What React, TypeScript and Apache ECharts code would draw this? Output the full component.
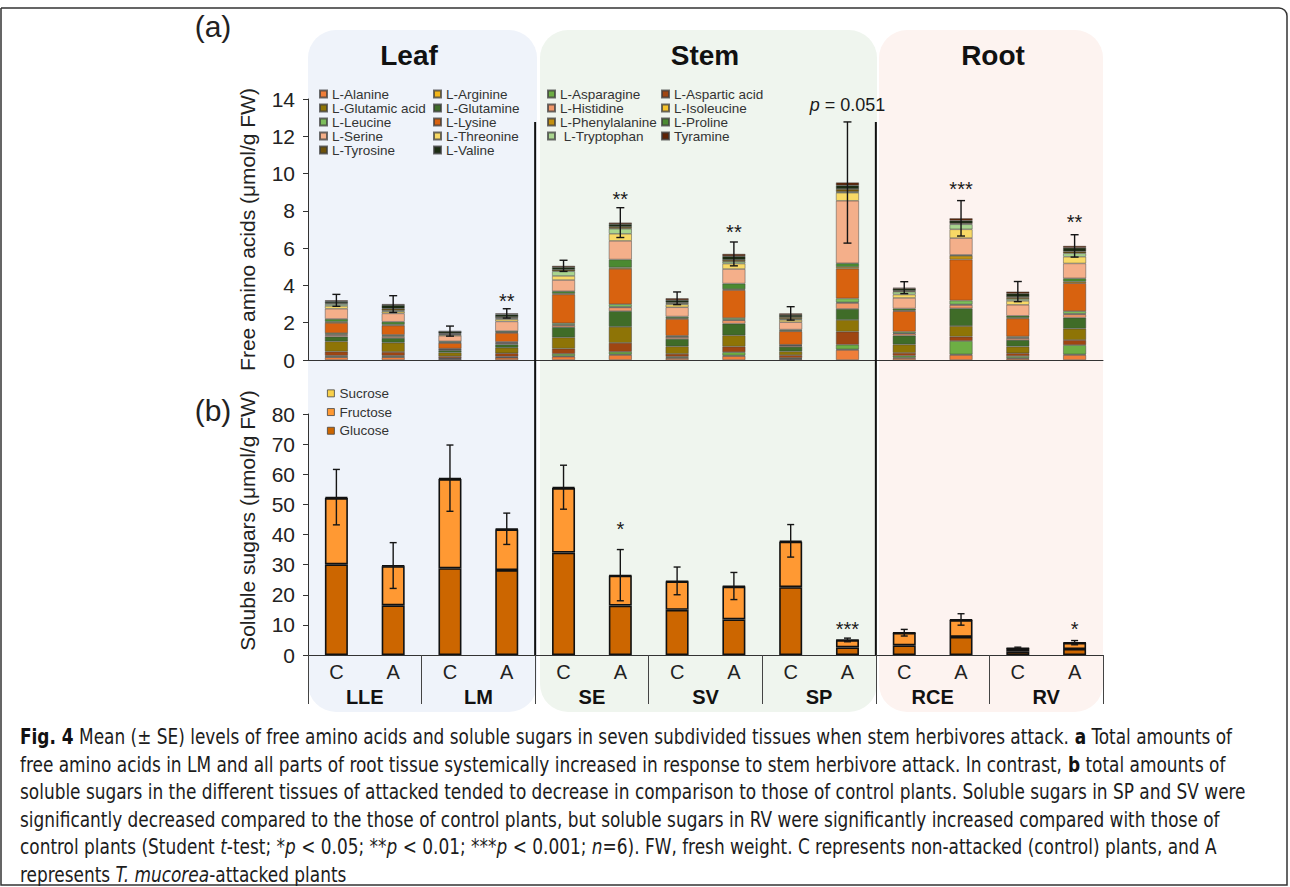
import React, { useEffect, useRef } from 'react';
import * as echarts from 'echarts';

// ---------- data ----------
const categories = ['C', 'A', 'C', 'A', 'C', 'A', 'C', 'A', 'C', 'A', 'C', 'A', 'C', 'A'];
const groups = ['LLE', 'LM', 'SE', 'SV', 'SP', 'RCE', 'RV'];

const aminoNames = [
  'L-Alanine', 'L-Arginine', 'L-Asparagine', 'L-Aspartic acid', 'L-Glutamic acid', 'L-Glutamine',
  'L-Histidine', 'L-Isoleucine', 'L-Leucine', 'L-Lysine', 'L-Phenylalanine', 'L-Proline',
  'L-Serine', 'L-Threonine', 'L-Tryptophan', 'L-Tyrosine', 'L-Valine', 'Tyramine',
];
const aminoColors = [
  '#EF7E3A', '#F3B61A', '#6DAE44', '#9F4612', '#8E7406', '#3F6C28',
  '#F0986A', '#F7C52C', '#7DBE5C', '#D8620F', '#C39110', '#4B8A31',
  '#F4AF8A', '#F8D966', '#A9D58E', '#6E520A', '#1C2C12', '#5E2406',
];

const alanine = [0.15, 0.15, 0.05, 0.12, 0.18, 0.27, 0.1, 0.21, 0.05, 0.54, 0.1, 0.27, 0.08, 0.27];
const arginine = [0.03, 0.03, 0.02, 0.02, 0.03, 0.03, 0.03, 0.03, 0.02, 0.03, 0.03, 0.03, 0.03, 0.03];
const asparagine = [0.05, 0.05, 0.03, 0.04, 0.12, 0.14, 0.05, 0.18, 0.04, 0.25, 0.1, 0.72, 0.1, 0.5];
const asparticAcid = [0.22, 0.2, 0.1, 0.18, 0.28, 0.48, 0.15, 0.3, 0.15, 0.7, 0.15, 0.23, 0.15, 0.27];
const glutamicAcid = [0.55, 0.5, 0.2, 0.3, 0.6, 0.86, 0.4, 0.6, 0.2, 0.63, 0.45, 0.57, 0.36, 0.61];
const glutamine = [0.25, 0.25, 0.12, 0.18, 0.55, 0.84, 0.4, 0.63, 0.25, 0.59, 0.48, 0.95, 0.35, 0.59];
const histidine = [0.08, 0.08, 0.04, 0.06, 0.1, 0.2, 0.1, 0.18, 0.06, 0.32, 0.1, 0.18, 0.1, 0.18];
const isoleucine = [0.05, 0.04, 0.02, 0.03, 0.03, 0.03, 0.02, 0.03, 0.02, 0.03, 0.03, 0.03, 0.03, 0.03];
const leucine = [0.06, 0.05, 0.03, 0.04, 0.08, 0.14, 0.05, 0.09, 0.03, 0.21, 0.08, 0.21, 0.06, 0.14];
const lysine = [0.55, 0.5, 0.3, 0.48, 1.55, 1.9, 0.9, 1.5, 0.72, 1.6, 1.1, 2.2, 0.97, 1.5];
const phenylalanine = [0.06, 0.05, 0.03, 0.04, 0.05, 0.07, 0.05, 0.05, 0.04, 0.09, 0.04, 0.2, 0.04, 0.08];
const proline = [0.15, 0.15, 0.06, 0.06, 0.12, 0.43, 0.08, 0.3, 0.05, 0.2, 0.1, 0.05, 0.1, 0.18];
const serine = [0.55, 0.45, 0.3, 0.52, 0.6, 1.0, 0.5, 0.78, 0.4, 3.35, 0.57, 0.9, 0.59, 0.8];
const threonine = [0.15, 0.1, 0.06, 0.12, 0.22, 0.38, 0.15, 0.29, 0.12, 0.43, 0.18, 0.47, 0.21, 0.36];
const tryptophan = [0.1, 0.05, 0.03, 0.05, 0.25, 0.27, 0.05, 0.1, 0.05, 0.05, 0.15, 0.27, 0.1, 0.18];
const tyrosine = [0.05, 0.1, 0.04, 0.06, 0.08, 0.1, 0.05, 0.1, 0.1, 0.15, 0.05, 0.05, 0.1, 0.1];
const valine = [0.1, 0.2, 0.1, 0.15, 0.14, 0.15, 0.13, 0.2, 0.12, 0.2, 0.12, 0.15, 0.2, 0.2];
const tyramine = [0.05, 0.05, 0.02, 0.05, 0.07, 0.08, 0.1, 0.12, 0.08, 0.15, 0.05, 0.12, 0.1, 0.1];

const aminoValues = [
  alanine, arginine, asparagine, asparticAcid, glutamicAcid, glutamine, histidine, isoleucine,
  leucine, lysine, phenylalanine, proline, serine, threonine, tryptophan, tyrosine, valine, tyramine,
];
const aminoSE = [0.32, 0.45, 0.27, 0.25, 0.3, 0.8, 0.34, 0.64, 0.36, 3.25, 0.32, 0.95, 0.54, 0.6];
const aminoStars = ['', '', '', '**', '', '**', '', '**', '', '{i|p} = 0.051', '', '***', '', '**'];
const aminoStarLevel = [0, 0, 0, 3.43, 0, 8.9, 0, 7.12, 0, 13.68, 0, 9.39, 0, 7.67];

const sugarNames = ['Glucose', 'Fructose', 'Sucrose'];
const sugarColors = ['#CC6600', '#FF9933', '#F9D04A'];
const glucose = [30.1, 16.5, 28.8, 28.2, 34.0, 16.4, 15.0, 11.8, 22.5, 2.5, 3.2, 6.0, 1.1, 2.0];
const fructose = [22.0, 13.0, 29.6, 13.5, 21.4, 9.9, 9.4, 10.9, 15.1, 2.4, 4.1, 5.6, 1.1, 2.0];
const sucrose = [0.3, 0.2, 0.3, 0.2, 0.3, 0.2, 0.2, 0.2, 0.3, 0.1, 0.1, 0.2, 0.1, 0.1];
const sugarValues = [glucose, fructose, sucrose];
const sugarSE = [9.2, 7.6, 11.0, 5.2, 7.3, 8.5, 4.6, 4.5, 5.4, 0.6, 1.1, 1.9, 0.3, 0.7];
const sugarStars = ['', '', '', '', '', '*', '', '', '', '***', '', '', '', '*'];
const sugarStarLevel = [0, 0, 0, 0, 0, 43.2, 0, 0, 0, 10, 0, 0, 0, 10];

const aminoAxis = { min: 0, max: 14, interval: 2 };
const sugarAxis = { min: 0, max: 80, interval: 10 };

const legendCol1 = ['L-Alanine', 'L-Glutamic acid', 'L-Leucine', 'L-Serine', 'L-Tyrosine'];
const legendCol2 = ['L-Arginine', 'L-Glutamine', 'L-Lysine', 'L-Threonine', 'L-Valine'];
const legendCol3 = ['L-Asparagine', 'L-Histidine', 'L-Phenylalanine', 'L-Tryptophan'];
const legendCol4 = ['L-Aspartic acid', 'L-Isoleucine', 'L-Proline', 'Tyramine'];
const sugarLegend = ['Sucrose', 'Fructose', 'Glucose'];

const captionLines = [
  '{b|Fig. 4} Mean (± SE) levels of free amino acids and soluble sugars in seven subdivided tissues when stem herbivores attack. {b|a} Total amounts of',
  'free amino acids in LM and all parts of root tissue systemically increased in response to stem herbivore attack. In contrast, {b|b} total amounts of',
  'soluble sugars in the different tissues of attacked tended to decrease in comparison to those of control plants. Soluble sugars in SP and SV were',
  'significantly decreased compared to the those of control plants, but soluble sugars in RV were significantly increased compared with those of',
  'control plants (Student {i|t}-test; *{i|p} < 0.05; **{i|p} < 0.01; ***{i|p} < 0.001; {i|n}=6). FW, fresh weight. C represents non-attacked (control) plants, and A',
  'represents {i|T. mucorea}-attacked plants',
];

// ---------- layout / style ----------
const FONT = "'Liberation Sans', Arial, Helvetica, sans-serif";
const CAP_FONT = "'DejaVu Sans Condensed', 'DejaVu Sans', sans-serif";
const CAP_SIZE = 21;
const CAP_LEFT = 20;
const CAP_LINE1_RIGHT = 1232;
const GL = 308;
const GW = 795;
const SLOT = GW / categories.length;

function measureRich(line: string): number {
  const ctx = document.createElement('canvas').getContext('2d');
  if (!ctx) return 0;
  let w = 0;
  const re = /\{(\w)\|([^}]*)\}/g;
  let last = 0;
  let m: RegExpExecArray | null;
  const seg = (t: string, style: string) => {
    ctx.font = `${style} ${CAP_SIZE}px ${CAP_FONT}`;
    w += ctx.measureText(t).width;
  };
  while ((m = re.exec(line))) {
    seg(line.slice(last, m.index), 'normal');
    seg(m[2], m[1] === 'b' ? 'bold' : 'italic');
    last = m.index + m[0].length;
  }
  seg(line.slice(last), 'normal');
  return w;
}

function errorRender(cap: number) {
  return (params: any, api: any) => {
    const x = api.value(0);
    const p1 = api.coord([x, api.value(1)]);
    const p2 = api.coord([x, api.value(2)]);
    const st = { stroke: '#151515', lineWidth: 1.4 };
    return {
      type: 'group',
      children: [
        { type: 'line', shape: { x1: p1[0], y1: p1[1], x2: p2[0], y2: p2[1] }, style: st },
        { type: 'line', shape: { x1: p1[0] - cap, y1: p1[1], x2: p1[0] + cap, y2: p1[1] }, style: st },
        { type: 'line', shape: { x1: p2[0] - cap, y1: p2[1], x2: p2[0] + cap, y2: p2[1] }, style: st },
      ],
    };
  };
}

function starRender(items: { s: string }[], size: number) {
  return (params: any, api: any) => {
    const p = api.coord([api.value(0), api.value(1)]);
    const s = items[params.dataIndex].s;
    const isStar = s.indexOf('*') >= 0;
    return {
      type: 'text',
      x: p[0],
      y: p[1] + (isStar ? 4.5 : 0),
      style: {
        text: s,
        fontSize: isStar ? 20 : size,
        fontFamily: FONT,
        fill: '#1a1a1a',
        align: 'center',
        verticalAlign: 'middle',
        rich: { i: { fontStyle: 'italic', fontSize: size, fontFamily: FONT, fill: '#1a1a1a' } },
      },
    };
  };
}

function buildOption() {
  const aminoTotals = categories.map((_, i) => aminoValues.reduce((s, arr) => s + arr[i], 0));
  const sugarTotals = categories.map((_, i) => sugarValues.reduce((s, arr) => s + arr[i], 0));
  const aminoErr = aminoTotals.map((t, i) => [i, t - aminoSE[i], t + aminoSE[i]]);
  const sugarErr = sugarTotals.map((t, i) => [i, t - sugarSE[i], t + sugarSE[i]]);
  const aStarItems = aminoStars.map((s, i) => ({ s, i, lv: aminoStarLevel[i] })).filter((d) => d.s);
  const sStarItems = sugarStars.map((s, i) => ({ s, i, lv: sugarStarLevel[i] })).filter((d) => d.s);

  const w1 = measureRich(captionLines[0]);
  const capScale = w1 > 0 ? (CAP_LINE1_RIGHT - CAP_LEFT) / w1 : 1;

  const aminoSeries = aminoNames.map((name, k) => ({
    type: 'bar',
    name,
    stack: 'amino',
    xAxisIndex: 0,
    yAxisIndex: 0,
    barWidth: 23,
    silent: true,
    data: aminoValues[k],
    itemStyle: { color: aminoColors[k], borderColor: 'rgba(60,60,60,0.75)', borderWidth: 0.6 },
  }));
  const sugarSeries = sugarNames.map((name, k) => ({
    type: 'bar',
    name,
    stack: 'sugar',
    xAxisIndex: 1,
    yAxisIndex: 1,
    barWidth: 23,
    silent: true,
    data: sugarValues[k],
    itemStyle: { color: sugarColors[k], borderColor: '#111', borderWidth: 1.6 },
  }));

  const legendBase = {
    orient: 'vertical',
    icon: 'rect',
    itemWidth: 7,
    itemHeight: 7,
    itemGap: 0,
    padding: 0,
    selectedMode: false,
    textStyle: { fontSize: 13.5, color: '#333', fontFamily: FONT, lineHeight: 13.8 },
  };

  const b1 = GL + 4 * SLOT;
  const b2 = GL + 10 * SLOT;

  const axisLabel = { fontSize: 21, color: '#222', margin: 13, fontFamily: FONT };
  const nameStyle = { fontSize: 21, color: '#222', fontFamily: FONT };

  return {
    animation: false,
    backgroundColor: '#ffffff',
    textStyle: { fontFamily: FONT },
    grid: [
      { left: GL, top: 99, width: GW, height: 261 },
      { left: GL, top: 414, width: GW, height: 241 },
    ],
    legend: [
      { ...legendBase, left: 319, top: 87, data: legendCol1 },
      { ...legendBase, left: 433, top: 87, data: legendCol2 },
      {
        ...legendBase, left: 547, top: 87, data: legendCol3,
        formatter: (n: string) => (n === 'L-Tryptophan' ? ' ' + n : n),
      },
      { ...legendBase, left: 661, top: 87, data: legendCol4 },
      {
        ...legendBase, left: 327, top: 384, data: sugarLegend,
        textStyle: { fontSize: 13.5, color: '#333', fontFamily: FONT, lineHeight: 18.7 },
        itemStyle: { borderWidth: 0.8, borderColor: '#444' },
      },
    ],
    xAxis: [
      {
        type: 'category', gridIndex: 0, data: categories,
        axisLine: { lineStyle: { color: '#333', width: 1 } },
        axisTick: { show: false }, axisLabel: { show: false },
      },
      {
        type: 'category', gridIndex: 1, data: categories,
        axisLine: { lineStyle: { color: '#333', width: 1 } },
        axisTick: { show: false },
        axisLabel: { fontSize: 20, color: '#222', margin: 7, fontFamily: FONT },
      },
      {
        type: 'category', gridIndex: 1, data: groups, position: 'bottom',
        axisLine: { show: false },
        axisTick: { show: true, length: 49, lineStyle: { color: '#444', width: 1 } },
        axisLabel: { fontSize: 20, fontWeight: 'bold', color: '#111', margin: 32, fontFamily: FONT },
      },
    ],
    yAxis: [
      {
        type: 'value', gridIndex: 0, ...aminoAxis,
        axisLine: { show: true, lineStyle: { color: '#333' } },
        axisTick: { show: true, length: 5, lineStyle: { color: '#333' } },
        axisLabel,
        splitLine: { show: false },
        name: 'Free amino acids (μmol/g FW)', nameLocation: 'middle', nameGap: 50,
        nameTextStyle: nameStyle,
      },
      {
        type: 'value', gridIndex: 1, ...sugarAxis,
        axisLine: { show: true, lineStyle: { color: '#333' } },
        axisTick: { show: true, length: 5, lineStyle: { color: '#333' } },
        axisLabel,
        splitLine: { show: false },
        name: 'Soluble sugars (μmol/g FW)', nameLocation: 'middle', nameGap: 50,
        nameTextStyle: { ...nameStyle, padding: [0, 0, 0, 28] },
      },
    ],
    series: [
      ...aminoSeries,
      ...sugarSeries,
      {
        type: 'custom', xAxisIndex: 0, yAxisIndex: 0, silent: true, z: 10,
        renderItem: errorRender(4), data: aminoErr, encode: { x: 0, y: [1, 2] },
      },
      {
        type: 'custom', xAxisIndex: 1, yAxisIndex: 1, silent: true, z: 10,
        renderItem: errorRender(3.5), data: sugarErr, encode: { x: 0, y: [1, 2] },
      },
      {
        type: 'custom', xAxisIndex: 0, yAxisIndex: 0, silent: true, z: 10, clip: false,
        renderItem: starRender(aStarItems, 18), data: aStarItems.map((d) => [d.i, d.lv]),
      },
      {
        type: 'custom', xAxisIndex: 1, yAxisIndex: 1, silent: true, z: 10, clip: false,
        renderItem: starRender(sStarItems, 18), data: sStarItems.map((d) => [d.i, d.lv]),
      },
    ],
    graphic: [
      {
        type: 'rect', z: -100, silent: true,
        shape: { x: 1, y: 8, width: 1286, height: 877, r: [0, 8, 0, 0] },
        style: { fill: 'none', stroke: '#333', lineWidth: 1.5 },
      },
      { type: 'rect', z: -90, silent: true, shape: { x: 308, y: 30, width: 229, height: 682, r: 28 }, style: { fill: '#EFF3FA' } },
      { type: 'rect', z: -90, silent: true, shape: { x: 540, y: 30, width: 337, height: 682, r: 28 }, style: { fill: '#EFF5EE' } },
      { type: 'rect', z: -90, silent: true, shape: { x: 879, y: 30, width: 224, height: 682, r: 28 }, style: { fill: '#FDF3F0' } },
      { type: 'line', z: 5, silent: true, shape: { x1: b1, y1: 122, x2: b1, y2: 655 }, style: { stroke: '#111', lineWidth: 2 } },
      { type: 'line', z: 5, silent: true, shape: { x1: b2, y1: 122, x2: b2, y2: 655 }, style: { stroke: '#111', lineWidth: 2 } },
      ...[
        ['Leaf', 409],
        ['Stem', 705],
        ['Root', 993],
      ].map(([t, x]) => ({
        type: 'text', z: 10, silent: true, x: x as number, y: 55,
        style: { text: t as string, fontSize: 28, fontWeight: 'bold', fontFamily: FONT, fill: '#111', align: 'center', verticalAlign: 'middle' },
      })),
      {
        type: 'text', z: 10, silent: true, x: 213, y: 26,
        style: { text: '(a)', fontSize: 30, fontFamily: FONT, fill: '#222', align: 'center', verticalAlign: 'middle' },
      },
      {
        type: 'text', z: 10, silent: true, x: 213, y: 410,
        style: { text: '(b)', fontSize: 30, fontFamily: FONT, fill: '#222', align: 'center', verticalAlign: 'middle' },
      },
      ...captionLines.map((line, k) => ({
        type: 'text', z: 10, silent: true, x: CAP_LEFT, y: 737 + k * 27.5, scaleX: capScale,
        style: {
          text: line, fontSize: CAP_SIZE, fontFamily: CAP_FONT, fill: '#1c1c1c', align: 'left', verticalAlign: 'middle',
          rich: {
            b: { fontWeight: 'bold', fontSize: CAP_SIZE, fontFamily: CAP_FONT, fill: '#111' },
            i: { fontStyle: 'italic', fontSize: CAP_SIZE, fontFamily: CAP_FONT, fill: '#1c1c1c' },
          },
        },
      })),
    ],
  };
}

export default function App() {
  const ref = useRef<HTMLDivElement>(null);
  useEffect(() => {
    if (!ref.current) return;
    const chart = echarts.init(ref.current, null, { renderer: 'svg' });
    chart.setOption(buildOption() as any);
    return () => chart.dispose();
  }, []);
  return (
    <div
      ref={ref}
      style={{ position: 'fixed', left: 0, top: 0, width: 1290, height: 887, background: '#fff' }}
    />
  );
}
